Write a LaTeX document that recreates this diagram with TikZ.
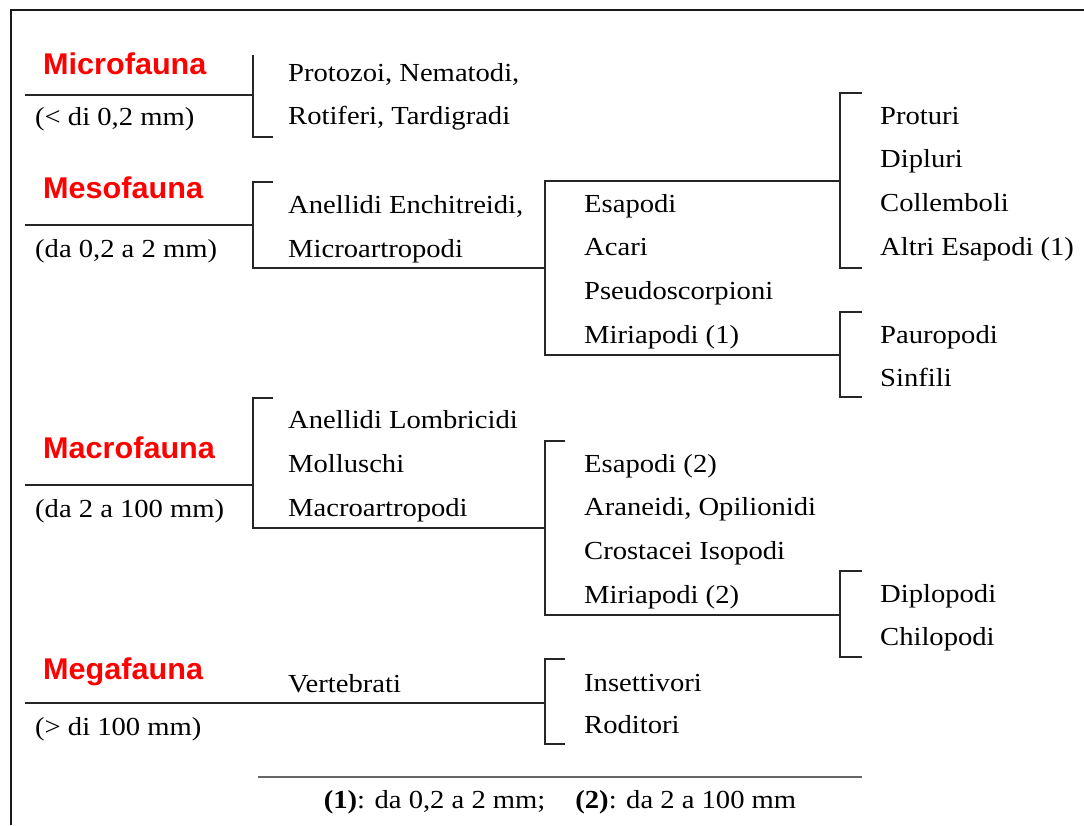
\documentclass[tikz,border=0pt]{standalone}
\usepackage{fontspec}
\setmainfont{Liberation Serif}[FakeStretch=1.1]
\newfontfamily\redfont{Liberation Sans}[FakeStretch=1.02]
\begin{document}
\begin{tikzpicture}[x=1pt,y=-1pt,
  lbl/.style={anchor=base west, inner sep=0pt, font=\fontsize{26}{30}\selectfont},
  grp/.style={anchor=base west, inner sep=0pt, text=red, font=\redfont\bfseries\fontsize{30}{34}\selectfont},
  ln/.style={line width=1.4pt, black!85},
  frame/.style={line width=2pt, black!90}]
\useasboundingbox (0,0) rectangle (1084,825);
% frame
\coordinate (fb) at (11,825); \coordinate (fc) at (11,10); \coordinate (fr) at (1084,10);
\draw[frame] (fb) -- (fc) -- (fr);

% ---------- Microfauna
\node[grp] (micro) at (43,74) {Microfauna};
\node[lbl] (microsz) at (35,125) {(< di 0,2 mm)};
\node[lbl] (proto) at (288,81) {Protozoi, Nematodi,};
\node[lbl] (roti) at (288,124) {Rotiferi, Tardigradi};
\coordinate (m0) at (25,95); \coordinate (m1) at (253,95);
\coordinate (m1t) at (253,55); \coordinate (m1b) at (253,137); \coordinate (m1e) at (273,137);
\draw[ln] (m0) -- (m1);
\draw[ln] (m1t) -- (m1b) -- (m1e);

% ---------- Mesofauna
\node[grp] (meso) at (43,198) {Mesofauna};
\node[lbl] (mesosz) at (35,257) {(da 0,2 a 2 mm)};
\node[lbl] (anenc) at (288,213) {Anellidi Enchitreidi,};
\node[lbl] (micart) at (288,257) {Microartropodi};
\node[lbl] (esa1) at (584,212) {Esapodi};
\node[lbl] (acari) at (584,255) {Acari};
\node[lbl] (pseudo) at (584,299) {Pseudoscorpioni};
\node[lbl] (miria1) at (584,343) {Miriapodi (1)};
\node[lbl] (proturi) at (880,124) {Proturi};
\node[lbl] (dipluri) at (880,167) {Dipluri};
\node[lbl] (collem) at (880,211) {Collemboli};
\node[lbl] (altri) at (880,255) {Altri Esapodi (1)};
\node[lbl] (pauro) at (880,343) {Pauropodi};
\node[lbl] (sinf) at (880,386) {Sinfili};
\coordinate (s0) at (25,225); \coordinate (s1) at (253,225);
\coordinate (s1e) at (273,182); \coordinate (s1t) at (253,182); \coordinate (s1b) at (253,268);
\coordinate (s2) at (545,268);
\coordinate (s2t) at (545,181); \coordinate (s2b) at (545,355);
\coordinate (s3) at (840,181); \coordinate (s4) at (840,355);
\coordinate (s3t) at (840,93); \coordinate (s3te) at (862,93);
\coordinate (s3b) at (840,268); \coordinate (s3be) at (862,268);
\coordinate (s4t) at (840,312); \coordinate (s4te) at (862,312);
\coordinate (s4b) at (840,397); \coordinate (s4be) at (862,397);
\draw[ln] (s0) -- (s1);
\draw[ln] (s1e) -- (s1t) -- (s1b) -- (s2);
\draw[ln] (s3) -- (s2t) -- (s2b) -- (s4);
\draw[ln] (s3te) -- (s3t) -- (s3b) -- (s3be);
\draw[ln] (s4te) -- (s4t) -- (s4b) -- (s4be);

% ---------- Macrofauna
\node[grp] (macro) at (43,458) {Macrofauna};
\node[lbl] (macrosz) at (35,517) {(da 2 a 100 mm)};
\node[lbl] (anlom) at (288,428) {Anellidi Lombricidi};
\node[lbl] (moll) at (288,472) {Molluschi};
\node[lbl] (macart) at (288,516) {Macroartropodi};
\node[lbl] (esa2) at (584,472) {Esapodi (2)};
\node[lbl] (aran) at (584,515) {Araneidi, Opilionidi};
\node[lbl] (crost) at (584,559) {Crostacei Isopodi};
\node[lbl] (miria2) at (584,603) {Miriapodi (2)};
\node[lbl] (diplo) at (880,602) {Diplopodi};
\node[lbl] (chilo) at (880,645) {Chilopodi};
\coordinate (a0) at (25,485); \coordinate (a1) at (253,485);
\coordinate (a1e) at (273,398); \coordinate (a1t) at (253,398); \coordinate (a1b) at (253,528);
\coordinate (a2) at (545,528);
\coordinate (a2e) at (565,441); \coordinate (a2t) at (545,441); \coordinate (a2b) at (545,615);
\coordinate (a3) at (840,615);
\coordinate (a3t) at (840,571); \coordinate (a3te) at (862,571);
\coordinate (a3b) at (840,657); \coordinate (a3be) at (862,657);
\draw[ln] (a0) -- (a1);
\draw[ln] (a1e) -- (a1t) -- (a1b) -- (a2);
\draw[ln] (a2e) -- (a2t) -- (a2b) -- (a3);
\draw[ln] (a3te) -- (a3t) -- (a3b) -- (a3be);

% ---------- Megafauna
\node[grp] (mega) at (43,679) {Megafauna};
\node[lbl] (megasz) at (35,735) {(> di 100 mm)};
\node[lbl] (vert) at (288,692) {Vertebrati};
\node[lbl] (insett) at (584,691) {Insettivori};
\node[lbl] (rodit) at (584,733) {Roditori};
\coordinate (g0) at (25,703); \coordinate (g1) at (545,703);
\coordinate (g1t) at (545,659); \coordinate (g1te) at (565,659);
\coordinate (g1b) at (545,744); \coordinate (g1be) at (565,744);
\draw[ln] (g0) -- (g1);
\draw[ln] (g1te) -- (g1t) -- (g1b) -- (g1be);

% ---------- footnote
\coordinate (n0) at (258,777); \coordinate (n1) at (862,777);
\draw[line width=1.2pt, black!60] (n0) -- (n1);
\node[anchor=base, inner sep=0pt, font=\fontsize{26}{30}\selectfont] (note) at (560,808)
  {\textbf{(1)}: da 0,2 a 2 mm;\hspace{30pt}\textbf{(2)}: da 2 a 100 mm};
\end{tikzpicture}
\end{document}
